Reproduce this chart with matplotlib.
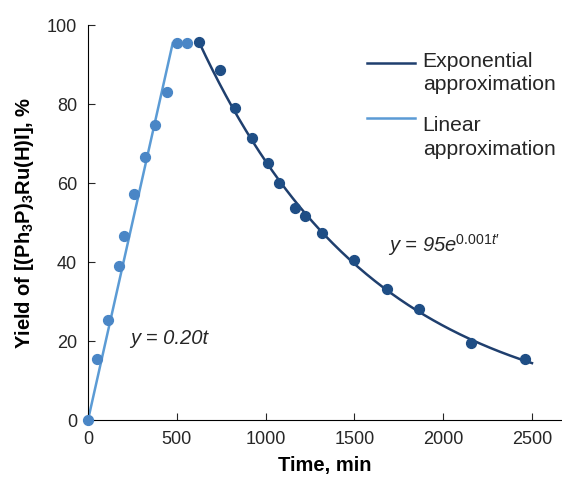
import numpy as np
import matplotlib
matplotlib.use("Agg")
import matplotlib.pyplot as plt

plt.rcParams['font.family'] = ['Liberation Sans', 'DejaVu Sans']
plt.rcParams['mathtext.fontset'] = 'custom'
plt.rcParams['mathtext.rm'] = 'Liberation Sans'
plt.rcParams['mathtext.it'] = 'Liberation Sans:italic'
plt.rcParams['mathtext.bf'] = 'Liberation Sans:bold'

# Measured yields: growth phase and decay phase
t_growth = [0, 51, 113, 175, 203, 259, 321, 377, 445, 501, 557]
y_growth = [0, 15.4, 25.3, 39.0, 46.6, 57.2, 66.6, 74.7, 83.0, 95.4, 95.4]
t_decay = [625, 743, 828, 923, 1014, 1075, 1166, 1222, 1318, 1498, 1684, 1864, 2157, 2461]
y_decay = [95.7, 88.6, 79.0, 71.4, 65.0, 60.0, 53.7, 51.6, 47.3, 40.5, 33.2, 28.1, 19.5, 15.4]

# Fit parameters
lin_slope = 0.20
lin_end = 477
exp_a = 95.7
exp_k = 0.00101
exp_t0 = 625
exp_end = 2500

light = '#5B9BD5'
light_pt = '#4A86C6'
dark = '#1F3F6E'
dark_pt = '#1F4E85'
txt = '#262626'

fig = plt.figure(figsize=(5.62, 4.82), dpi=100)
ax = fig.add_axes([0.1566, 0.1286, 0.8434, 0.8195])

tl = np.linspace(0, lin_end, 50)
te = np.linspace(exp_t0, exp_end, 200)
ax.plot(te, exp_a * np.exp(-exp_k * (te - exp_t0)), color=dark, lw=1.8)
ax.plot(tl, lin_slope * tl, color=light, lw=1.8)
ax.scatter(t_growth, y_growth, s=50, color=light_pt, zorder=3, clip_on=False)
ax.scatter(t_decay, y_decay, s=50, color=dark_pt, zorder=3, clip_on=False)

ax.set_xlim(0, 2669)
ax.set_ylim(0, 100)
ax.set_xticks([0, 500, 1000, 1500, 2000, 2500])
ax.set_yticks([0, 20, 40, 60, 80, 100])
for s in ['top', 'right']:
    ax.spines[s].set_visible(False)
ax.tick_params(direction='in', length=5, labelsize=13, colors=txt, pad=8)

ax.set_xlabel('Time, min', fontsize=14.5, fontweight='bold', labelpad=6)
ax.set_ylabel(r'Yield of [(Ph$_\mathbf{3}$P)$_\mathbf{3}$Ru(H)I], %', fontsize=14.5,
              fontweight='bold', labelpad=8)

ax.text(235, 19.3, 'y = 0.20t', fontsize=14.5, style='italic', color=txt)
ax.text(1690, 42.5, "y = 95e$^{\\mathit{0.001t\u2032}}$", fontsize=14.5, style='italic',
        color=txt)

# legend, handle level with the first text line as in the original
legend_items = [(dark, 0.9046, ['Exponential', 'approximation'], [0.893, 0.835]),
                (light, 0.7646, ['Linear', 'approximation'], [0.732, 0.671])]
for col, ly, lines, ys in legend_items:
    ax.plot([0.5886, 0.690], [ly, ly], color=col, lw=1.8, transform=ax.transAxes,
            clip_on=False)
    for s, yy in zip(lines, ys):
        ax.text(0.706, yy, s, fontsize=15.2, color=txt, va='baseline',
                transform=ax.transAxes)

fig.savefig('out.png', dpi=100)
